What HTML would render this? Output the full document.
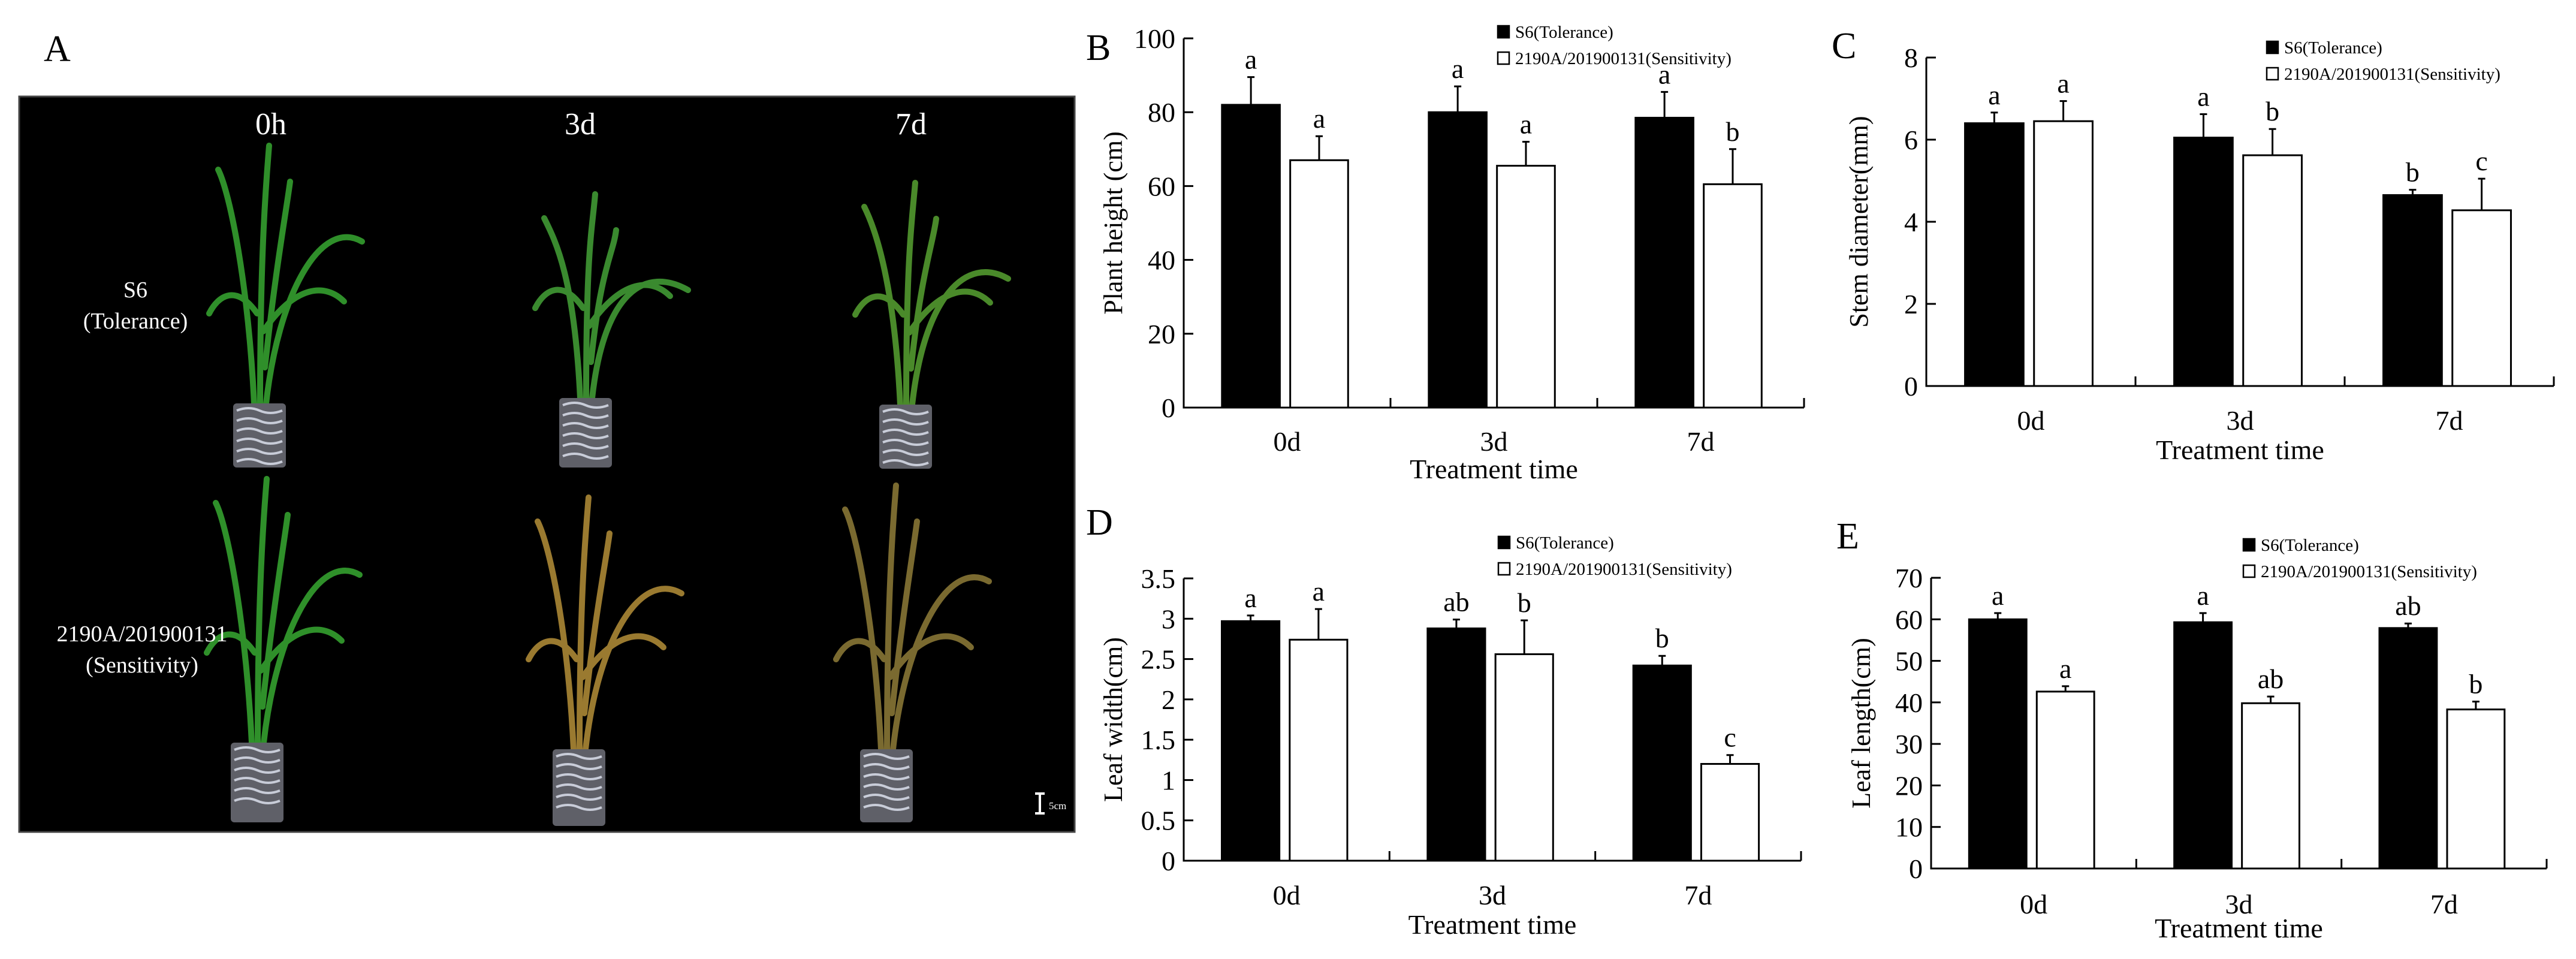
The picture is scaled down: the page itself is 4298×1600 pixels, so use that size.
<!DOCTYPE html>
<html><head><meta charset="utf-8">
<style>
html,body{margin:0;padding:0;background:#fff;}
svg{display:block;}
text{font-family:"Liberation Serif",serif;}
</style></head>
<body>
<svg id="fig" width="4298" height="1600" viewBox="0 0 4298 1600" xmlns="http://www.w3.org/2000/svg">
  <g>
    <text x="73" y="102" font-size="62">A</text>
    <rect x="32" y="161" width="1761" height="1227" fill="#000" stroke="#444" stroke-width="3"/>
    <g id="plants"></g>
    <g fill="#fff" font-size="52" text-anchor="middle">
      <text x="452" y="224">0h</text>
      <text x="968" y="224">3d</text>
      <text x="1520" y="224">7d</text>
    </g>
    <g fill="#fff" font-size="38" text-anchor="middle">
      <text x="226" y="496">S6</text>
      <text x="226" y="548">(Tolerance)</text>
      <text x="237" y="1070">2190A/201900131</text>
      <text x="237" y="1122">(Sensitivity)</text>
    </g>
    <g stroke="#fff" stroke-width="4">
      <line x1="1735" y1="1324" x2="1735" y2="1357"/>
      <line x1="1727" y1="1324" x2="1743" y2="1324"/>
      <line x1="1727" y1="1357" x2="1743" y2="1357"/>
    </g>
    <text x="1750" y="1350" fill="#fff" font-size="17">5cm</text>
  </g>
  <g id="charts"></g>
</svg>
<script>
// ---- Chart data ----
const categories = ["0d","3d","7d"];
const seriesNames = ["S6(Tolerance)","2190A/201900131(Sensitivity)"];

const heightTol = [82, 80, 78.5];
const heightTolErr = [7.5, 7, 7];
const heightSen = [67, 65.5, 60.5];
const heightSenErr = [6.5, 6.5, 9.5];
const heightTolLetters = ["a","a","a"];
const heightSenLetters = ["a","a","b"];
const heightTicks = [0,20,40,60,80,100];

const stemTol = [6.4, 6.05, 4.65];
const stemTolErr = [0.26, 0.57, 0.13];
const stemSen = [6.45, 5.62, 4.28];
const stemSenErr = [0.49, 0.64, 0.77];
const stemTolLetters = ["a","a","b"];
const stemSenLetters = ["a","b","c"];
const stemTicks = [0,2,4,6,8];

const widthTol = [2.97, 2.88, 2.42];
const widthTolErr = [0.07, 0.11, 0.12];
const widthSen = [2.74, 2.56, 1.2];
const widthSenErr = [0.38, 0.42, 0.11];
const widthTolLetters = ["a","ab","b"];
const widthSenLetters = ["a","b","c"];
const widthTicks = [0,0.5,1,1.5,2,2.5,3,3.5];

const lengthTol = [60, 59.3, 57.9];
const lengthTolErr = [1.5, 2.2, 1.1];
const lengthSen = [42.6, 39.8, 38.3];
const lengthSenErr = [1.3, 1.6, 1.9];
const lengthTolLetters = ["a","a","ab"];
const lengthSenLetters = ["a","ab","b"];
const lengthTicks = [0,10,20,30,40,50,60,70];

const NS = "http://www.w3.org/2000/svg";
function mk(tag, attrs, parent){
  const e = document.createElementNS(NS, tag);
  for (const k in attrs) e.setAttribute(k, attrs[k]);
  if (parent) parent.appendChild(e);
  return e;
}
function txt(parent, x, y, s, size, anchor, extra){
  const t = mk("text", {x:x, y:y, "font-size":size, "text-anchor":anchor||"start"}, parent);
  if (extra) for (const k in extra) t.setAttribute(k, extra[k]);
  t.textContent = s;
  return t;
}

function drawChart(cfg){
  const root = document.getElementById("charts");
  const g = mk("g", {}, root);
  
  
  const x0 = cfg.x0, x1 = cfg.x1, yTop = cfg.yTop, yBot = cfg.yBot;
  const maxV = cfg.ticks[cfg.ticks.length-1];
  const yS = v => yBot - (v / maxV) * (yBot - yTop);
  const catW = (x1 - x0) / categories.length;
  const xS = i => x0 + catW * i;

  const pl = txt(g, cfg.lx, cfg.ly, cfg.letter, 62);
  
  

  const ax = mk("path", {d:`M${x0} ${yTop} V${yBot} H${x1}`, fill:"none", stroke:"#000", "stroke-width":3}, g);
  
  

  cfg.ticks.forEach(t => {
    const y = yS(t);
    mk("line", {x1:x0, x2:x0+16, y1:y, y2:y, stroke:"#000", "stroke-width":3}, g);
    const tl = txt(g, x0 - 14, y + 16, String(t), 46, "end");
    
    
  });
  for (let i = 1; i <= categories.length; i++) {
    mk("line", {x1:xS(i), x2:xS(i), y1:yBot, y2:yBot-16, stroke:"#000", "stroke-width":3}, g);
  }
  categories.forEach((c, i) => {
    const cl = txt(g, xS(i) + catW/2, cfg.catY, c, 46, "middle");
    
    
  });
  const xt = txt(g, x0 + catW*1.5, cfg.xtY, "Treatment time", 46, "middle");
  
  
  const yc = (yTop + yBot) / 2;
  const yt = txt(g, cfg.ytX, yc, cfg.ytitle, 44, "middle", {transform:`rotate(-90 ${cfg.ytX} ${yc})`});
  
  

  const bw = catW * 0.28;
  const series = [
    {vals: cfg.tol, err: cfg.tolErr, lets: cfg.tolL, fill:"#000", off: catW*0.185},
    {vals: cfg.sen, err: cfg.senErr, lets: cfg.senL, fill:"#fff", off: catW*0.515}
  ];
  series.forEach((s, si) => {
    s.vals.forEach((v, i) => {
      const bx = xS(i) + s.off;
      const by = yS(v);
      const b = mk("rect", {x:bx, y:by, width:bw, height:yBot-by, fill:s.fill, stroke:"#000", "stroke-width":3}, g);
      
      
      const cx = bx + bw/2;
      const ey = yS(v + s.err[i]);
      const e = mk("path", {d:`M${cx} ${by} V${ey} M${cx-6} ${ey} H${cx+6}`, stroke:"#000", "stroke-width":3, fill:"none"}, g);
      
      
      const lt = txt(g, cx, ey - 14, s.lets[i], 46, "middle");
      
      
    });
  });

  const lg = mk("g", {}, g);
  
  
  [0,1].forEach(k => {
    const yy = cfg.legY + k*44;
    const sq = mk("rect", {x:cfg.legX, y:yy, width:19, height:20, fill: k===0?"#000":"#fff", stroke:"#000", "stroke-width":2.5}, lg);
    
    
    const lt = txt(lg, cfg.legX + 29, yy + 20, seriesNames[k], 29);
    
    
  });
}

drawChart({name:"chart-plant-height", letter:"B", lx:1812, ly:100, x0:1975, x1:3010, yTop:64, yBot:680,
  ticks:heightTicks, tol:heightTol, tolErr:heightTolErr, sen:heightSen, senErr:heightSenErr,
  tolL:heightTolLetters, senL:heightSenLetters, catY:752, xtY:798, ytX:1872, ytitle:"Plant height (cm)",
  legX:2499, legY:43});
drawChart({name:"chart-stem-diameter", letter:"C", lx:3056, ly:97, x0:3214, x1:4261, yTop:96, yBot:644,
  ticks:stemTicks, tol:stemTol, tolErr:stemTolErr, sen:stemSen, senErr:stemSenErr,
  tolL:stemTolLetters, senL:stemSenLetters, catY:717, xtY:766, ytX:3116, ytitle:"Stem diameter(mm)",
  legX:3782, legY:69});
drawChart({name:"chart-leaf-width", letter:"D", lx:1812, ly:892, x0:1975, x1:3005, yTop:965, yBot:1436,
  ticks:widthTicks, tol:widthTol, tolErr:widthTolErr, sen:widthSen, senErr:widthSenErr,
  tolL:widthTolLetters, senL:widthSenLetters, catY:1509, xtY:1558, ytX:1872, ytitle:"Leaf width(cm)",
  legX:2500, legY:895});
drawChart({name:"chart-leaf-length", letter:"E", lx:3064, ly:915, x0:3222, x1:4249, yTop:964, yBot:1449,
  ticks:lengthTicks, tol:lengthTol, tolErr:lengthTolErr, sen:lengthSen, senErr:lengthSenErr,
  tolL:lengthTolLetters, senL:lengthSenLetters, catY:1524, xtY:1564, ytX:3120, ytitle:"Leaf length(cm)",
  legX:3743, legY:899});

// ---- decorative plants in photo panel ----
(function(){
  const pg = document.getElementById("plants");
  const pots = [
    {x:389, top:673, bot:780, col:"#2f8f2a", h:430},
    {x:933, top:664, bot:780, col:"#3a8a2f", h:340},
    {x:1467, top:675, bot:782, col:"#4a8a2a", h:370},
    {x:385, top:1239, bot:1372, col:"#2f902a", h:440},
    {x:922, top:1250, bot:1378, col:"#9a7a30", h:420},
    {x:1435, top:1250, bot:1372, col:"#7a6a30", h:440}
  ];
  pots.forEach((p, i) => {
    const grp = mk("g", {}, pg);
    
    
    const cx = p.x + 45;
    const base = p.top;
    const tip = base - p.h;
    const leaves = [
      `M${cx-10} ${base} C${cx-20} ${base-200} ${cx-50} ${tip+80} ${cx-70} ${tip+40}`,
      `M${cx} ${base} C${cx} ${base-250} ${cx+10} ${tip+60} ${cx+15} ${tip}`,
      `M${cx+10} ${base} C${cx+30} ${base-180} ${cx+100} ${tip+120} ${cx+170} ${tip+160}`,
      `M${cx+5} ${base-120} C${cx+60} ${base-200} ${cx+110} ${base-200} ${cx+140} ${base-170}`,
      `M${cx-5} ${base-150} C${cx-40} ${base-200} ${cx-70} ${base-180} ${cx-85} ${base-150}`,
      `M${cx+8} ${base-60} C${cx+25} ${base-220} ${cx+45} ${tip+100} ${cx+50} ${tip+60}`
    ];
    leaves.forEach(d => mk("path", {d:d, fill:"none", stroke:p.col, "stroke-width":10, "stroke-linecap":"round"}, grp));
    mk("rect", {x:p.x, y:p.top, width:88, height:p.bot-p.top, fill:"#5f6068", rx:6}, grp);
    for (let k = 0; k < 6; k++) {
      mk("path", {d:`M${p.x+6} ${p.top+12+k*17} q20 -8 38 0 t38 0`, fill:"none", stroke:"#c8ccd8", "stroke-width":4}, grp);
    }
  });
})();
</script>
</body></html>
